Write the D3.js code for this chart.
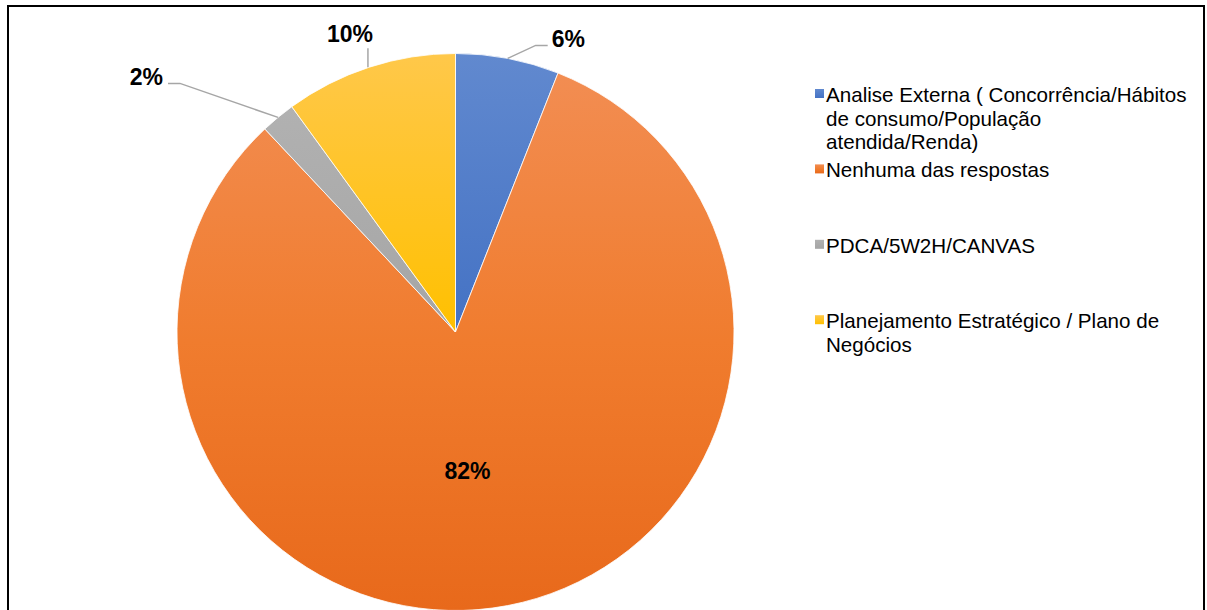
<!DOCTYPE html>
<html>
<head>
<meta charset="utf-8">
<script src="https://cdn.jsdelivr.net/npm/d3@7"></script>
<style>
  html, body { margin: 0; padding: 0; background: #fff; }
  svg { display: block; }
  text { font-family: "Liberation Sans", Arial, sans-serif; }
</style>
</head>
<body>
<svg id="chart" width="1207" height="610"></svg>
<script>
// Respostas (percentual) — ordem de desenho a partir das 12h, sentido horário
const categories = [
  "Analise Externa ( Concorrência/Hábitos de consumo/População atendida/Renda)",
  "Nenhuma das respostas",
  "PDCA/5W2H/CANVAS",
  "Planejamento Estratégico / Plano de Negócios"
];
const values = [6, 82, 2, 10];
const valueLabels = ["6%", "82%", "2%", "10%"];

// Gradientes verticais de cada fatia (topo -> base)
const gradientStops = [
  ["#6189cf", "#4472c4"],
  ["#f28d52", "#f07c2e", "#e8691b"],
  ["#b1b1b1", "#a5a5a5"],
  ["#ffc84a", "#ffc000"]
];

const svg = d3.select("#chart");
const W = 1207, H = 610;
const cx = 455.5, cy = 332, R = 278.5;

// moldura
svg.append("rect")
  .attr("x", 8).attr("y", 6)
  .attr("width", 1196).attr("height", H + 10)
  .attr("fill", "#fff")
  .attr("stroke", "#000").attr("stroke-width", 2);

const defs = svg.append("defs");
gradientStops.forEach((stops, i) => {
  const g = defs.append("linearGradient")
    .attr("id", "grad" + i)
    .attr("x1", 0).attr("y1", 0).attr("x2", 0).attr("y2", 1);
  stops.forEach((c, k) => {
    g.append("stop")
      .attr("offset", k / (stops.length - 1))
      .attr("stop-color", c);
  });
});

const pie = d3.pie().sort(null).value(d => d);
const arcs = pie(values);
const arc = d3.arc().innerRadius(0).outerRadius(R);

const gPie = svg.append("g").attr("transform", `translate(${cx},${cy})`);
gPie.selectAll("path")
  .data(arcs)
  .join("path")
  .attr("d", arc)
  .attr("fill", (d, i) => `url(#grad${i})`)
  .attr("stroke", "#fff")
  .attr("stroke-width", 0.8);

// rótulos de dados
const edge = d => {
  const a = (d.startAngle + d.endAngle) / 2;
  return [R * Math.sin(a), -R * Math.cos(a)];
};

// disposição dos rótulos: deslocamento do cotovelo da linha guia (relativo à borda),
// comprimento do trecho horizontal, e se a linha existe
const labelLayout = [
  { leader: true, elbow: [28, -13], run: 12, anchor: "start" },
  { leader: false },
  { leader: true, elbow: [-98, -34], run: -12, anchor: "end" },
  { leader: true, elbow: null, up: 19, anchor: "middle" }
];

arcs.forEach((d, i) => {
  const L = labelLayout[i];
  const [ex, ey] = edge(d);
  if (!L.leader) {
    // rótulo interno
    gPie.append("text")
      .attr("x", 12).attr("y", 147)
      .attr("text-anchor", "middle")
      .attr("font-size", 23).attr("font-weight", "bold")
      .attr("fill", "#000")
      .text(valueLabels[i]);
    return;
  }
  let pts, tx, ty;
  if (L.elbow) {
    const bx = ex + L.elbow[0], by = ey + L.elbow[1];
    const hx = bx + L.run;
    pts = [[ex, ey], [bx, by], [hx, by]];
    tx = hx + (L.run > 0 ? 4 : -5);
    ty = by + 1.5;
  } else {
    pts = [[ex - 1.5, ey], [ex - 1.5, ey - L.up]];
    tx = ex - 19.5;
    ty = ey - L.up - 6;
  }
  gPie.append("path")
    .attr("d", d3.line()(pts))
    .attr("fill", "none")
    .attr("stroke", "#a6a6a6")
    .attr("stroke-width", 1.5);
  gPie.append("text")
    .attr("x", tx).attr("y", ty)
    .attr("text-anchor", L.anchor)
    .attr("font-size", 23).attr("font-weight", "bold")
    .attr("fill", "#000")
    .text(valueLabels[i]);
});

// legenda
const legX = 815, legY = 102, slot = 75.4, lineH = 23.5, maxW = 372;
const gLeg = svg.append("g");
categories.forEach((name, i) => {
  const y = legY + i * slot;
  gLeg.append("rect")
    .attr("x", legX).attr("y", y - 13)
    .attr("width", 9).attr("height", 9)
    .attr("fill", `url(#grad${i})`);
  const t = gLeg.append("text")
    .attr("x", legX + 11).attr("y", y)
    .attr("font-size", 20.6)
    .attr("fill", "#000");
  // quebra de linha por palavras
  const words = name.split(" ");
  let line = [];
  let tspan = t.append("tspan").attr("x", legX + 11).attr("y", y);
  let n = 0;
  words.forEach(w => {
    line.push(w);
    tspan.text(line.join(" "));
    if (tspan.node().getComputedTextLength() > maxW && line.length > 1) {
      line.pop();
      tspan.text(line.join(" "));
      line = [w];
      n++;
      tspan = t.append("tspan").attr("x", legX + 11).attr("y", y + n * lineH).text(w);
    }
  });
});
</script>
</body>
</html>
